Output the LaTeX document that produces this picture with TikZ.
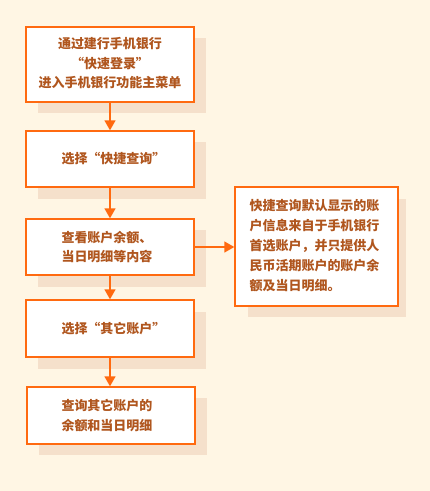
\documentclass[tikz,border=0pt]{standalone}
\usepackage{fontspec}
\setmainfont{Noto Sans CJK SC}
\usetikzlibrary{arrows.meta}
\definecolor{bgc}{HTML}{FFF6E4}
\definecolor{shc}{HTML}{F5E0CB}
\definecolor{brd}{HTML}{FF6A10}
\definecolor{txc}{HTML}{B0561E}
\tikzset{
  box/.style={draw=brd, line width=1.4pt, fill=white, minimum width=168pt, inner sep=0pt},
  shadowbox/.style={fill=shc, draw=none, minimum width=168pt, inner sep=0pt},
  txt/.style={text=txc, font=\fontsize{13}{19.5}\selectfont\bfseries, inner sep=0pt, align=left},
  conn/.style={draw=brd, line width=1.4pt, -{Triangle[width=11pt,length=10pt]}}
}
\begin{document}
\begin{tikzpicture}[x=1pt,y=-1pt]
\useasboundingbox[fill=bgc] (0,0) rectangle (430,491);
% shadows
\node[shadowbox, minimum height=75pt] (s1) at (121.5,75.5) {};
\node[shadowbox, minimum height=57pt] (s2) at (121.5,170.5) {};
\node[shadowbox, minimum height=57pt] (s3) at (121.5,258.5) {};
\node[shadowbox, minimum height=57pt] (s4) at (121.5,340) {};
\node[shadowbox, minimum height=57pt] (s5) at (122.5,426.5) {};
\node[shadowbox, minimum width=158pt, minimum height=118pt] (s6) at (327,258) {};
% boxes
\node[box, minimum height=75pt] (b1) at (110,64.5) {};
\node[box, minimum height=56pt] (b2) at (110,159) {};
\node[box, minimum height=56pt] (b3) at (110,247) {};
\node[box, minimum height=57pt] (b4) at (110,328.5) {};
\node[box, minimum height=57pt] (b5) at (111,415.5) {};
\node[box, minimum width=163pt, minimum height=119pt] (b6) at (316.5,246.5) {};
% texts
\node[txt, align=center] (t1) at (110,63.5) {通过建行手机银行\\“快速登录”\\进入手机银行功能主菜单};
\node[txt, anchor=west] (t2) at ([xshift=36pt]b2.west) {选择“快捷查询”};
\node[txt, anchor=west] (t3) at ([xshift=36pt]b3.west) {查看账户余额、\\当日明细等内容};
\node[txt, anchor=west] (t4) at ([xshift=36pt]b4.west) {选择“其它账户”};
\node[txt, anchor=west] (t5) at ([xshift=35pt]b5.west) {查询其它账户的\\余额和当日明细};
\node[txt, anchor=west, font=\fontsize{13}{20}\selectfont\bfseries] (t6) at ([xshift=15pt,yshift=1pt]b6.west) {快捷查询默认显示的账\\户信息来自于手机银行\\首选账户，并只提供人\\民币活期账户的账户余\\额及当日明细。};
% connectors
\draw[conn] (b1.south) -- (b2.north);
\draw[conn] (b2.south) -- (b3.north);
\draw[conn] (b3.south) -- (b4.north);
\draw[conn] (b4.south) -- (b4.south |- b5.north);
\draw[conn] (b3.east) -- (b6.west |- b3.east);
\end{tikzpicture}
\end{document}
